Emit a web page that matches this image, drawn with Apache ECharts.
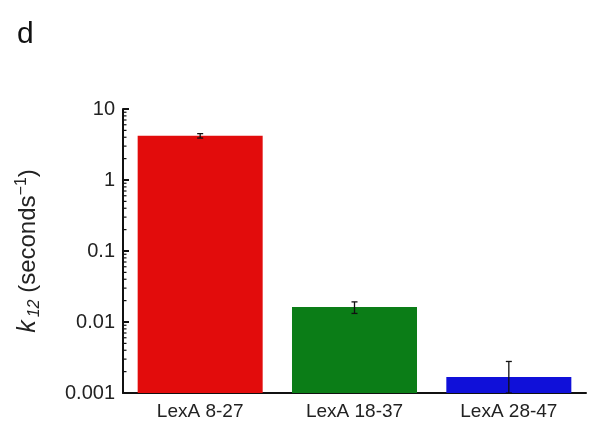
<!DOCTYPE html>
<html>
<head>
<meta charset="utf-8">
<script src="https://cdn.jsdelivr.net/npm/echarts@6/dist/echarts.min.js"></script>
<style>
html,body{margin:0;padding:0;background:#fff;}
#main{width:600px;height:432px;}
</style>
</head>
<body>
<div id="main"></div>
<script>
// data
var categories = ['LexA 8-27', 'LexA 18-37', 'LexA 28-47'];
var rates = [4.2, 0.0162, 0.00168];
var errors = [0.3, 0.003, 0.0011];
var barColors = ['#e20c0c', '#0b7d17', '#1010d9'];
var yMin = 0.001, yMax = 10;

// minor log ticks 2..9 per decade
var minorTicks = [];
for (var d = -3; d < 1; d++) {
    for (var m = 2; m <= 9; m++) {
        minorTicks.push([0, m * Math.pow(10, d)]);
    }
}

var myChart = echarts.init(document.getElementById('main'));

var barData = rates.map(function (v, i) { return [i, v]; });
var errData = rates.map(function (v, i) {
    return [i, Math.max(v - errors[i], yMin), v + errors[i]];
});

var option = {
    animation: false,
    title: {
        text: 'd',
        left: 12,
        top: 15,
        textStyle: { fontFamily: 'Liberation Sans', fontWeight: 'normal', fontSize: 30, color: '#111' }
    },
    grid: { left: 123, right: 14, top: 109, bottom: 39 },
    xAxis: {
        type: 'category',
        data: categories,
        axisLine: { lineStyle: { color: '#111', width: 2 } },
        axisTick: { inside: true, length: 6, lineStyle: { color: '#111', width: 2 } },
        axisLabel: { fontFamily: 'Liberation Sans', fontSize: 19, color: '#222', margin: 9 }
    },
    yAxis: {
        type: 'log',
        logBase: 10,
        min: yMin,
        max: yMax,
        name: '{k|k}{sub|12}{t| (seconds}{sup|−1}{t|)}',
        nameLocation: 'middle',
        nameRotate: 90,
        nameGap: 80,
        nameTextStyle: {
            rich: {
                k: { fontFamily: 'Liberation Sans', fontStyle: 'italic', fontSize: 25, color: '#222' },
                sub: { fontFamily: 'Liberation Sans', fontStyle: 'italic', fontSize: 16, color: '#222', verticalAlign: 'bottom', padding: [11, 0, 0, 3] },
                t: { fontFamily: 'Liberation Sans', fontSize: 24, color: '#222' },
                sup: { fontFamily: 'Liberation Sans', fontSize: 16, color: '#222', verticalAlign: 'top', padding: [0, 0, 13, 0] }
            }
        },
        axisLine: { show: true, lineStyle: { color: '#111', width: 2 } },
        axisTick: { show: true, inside: true, length: 6, lineStyle: { color: '#111', width: 2 } },
        splitLine: { show: false },
        axisLabel: { fontFamily: 'Liberation Sans', fontSize: 20, color: '#222', margin: 8 }
    },
    series: [
        {
            // bars drawn from the axis floor (log axis has no zero)
            type: 'custom',
            data: barData,
            encode: { x: 0, y: 1 },
            renderItem: function (params, api) {
                var top = api.coord([api.value(0), api.value(1)]);
                var base = api.coord([api.value(0), yMin]);
                var w = api.size([1, 0])[0] * 0.81;
                return {
                    type: 'rect',
                    shape: { x: top[0] - w / 2, y: top[1], width: w, height: base[1] - top[1] },
                    style: { fill: barColors[params.dataIndex] }
                };
            }
        },
        {
            type: 'custom',
            data: errData,
            encode: { x: 0, y: [1, 2] },
            z: 5,
            renderItem: function (params, api) {
                var x = api.coord([api.value(0), api.value(2)])[0];
                var lo = api.coord([api.value(0), api.value(1)])[1];
                var hi = api.coord([api.value(0), api.value(2)])[1];
                var style = { stroke: '#111', lineWidth: 1.3 };
                return {
                    type: 'group',
                    children: [
                        { type: 'line', shape: { x1: x, y1: lo, x2: x, y2: hi }, style: style },
                        { type: 'line', shape: { x1: x - 3, y1: hi, x2: x + 3, y2: hi }, style: style },
                        { type: 'line', shape: { x1: x - 3, y1: lo, x2: x + 3, y2: lo }, style: style }
                    ]
                };
            }
        },
        {
            // minor ticks on the log axis
            type: 'custom',
            data: minorTicks,
            encode: { x: 0, y: 1 },
            silent: true,
            z: 6,
            renderItem: function (params, api) {
                var y = api.coord([0, api.value(1)])[1];
                var x0 = params.coordSys.x;
                return {
                    type: 'line',
                    shape: { x1: x0, y1: y, x2: x0 + 3.5, y2: y },
                    style: { stroke: '#111', lineWidth: 1.2 }
                };
            }
        }
    ]
};
myChart.setOption(option);
</script>
</body>
</html>
